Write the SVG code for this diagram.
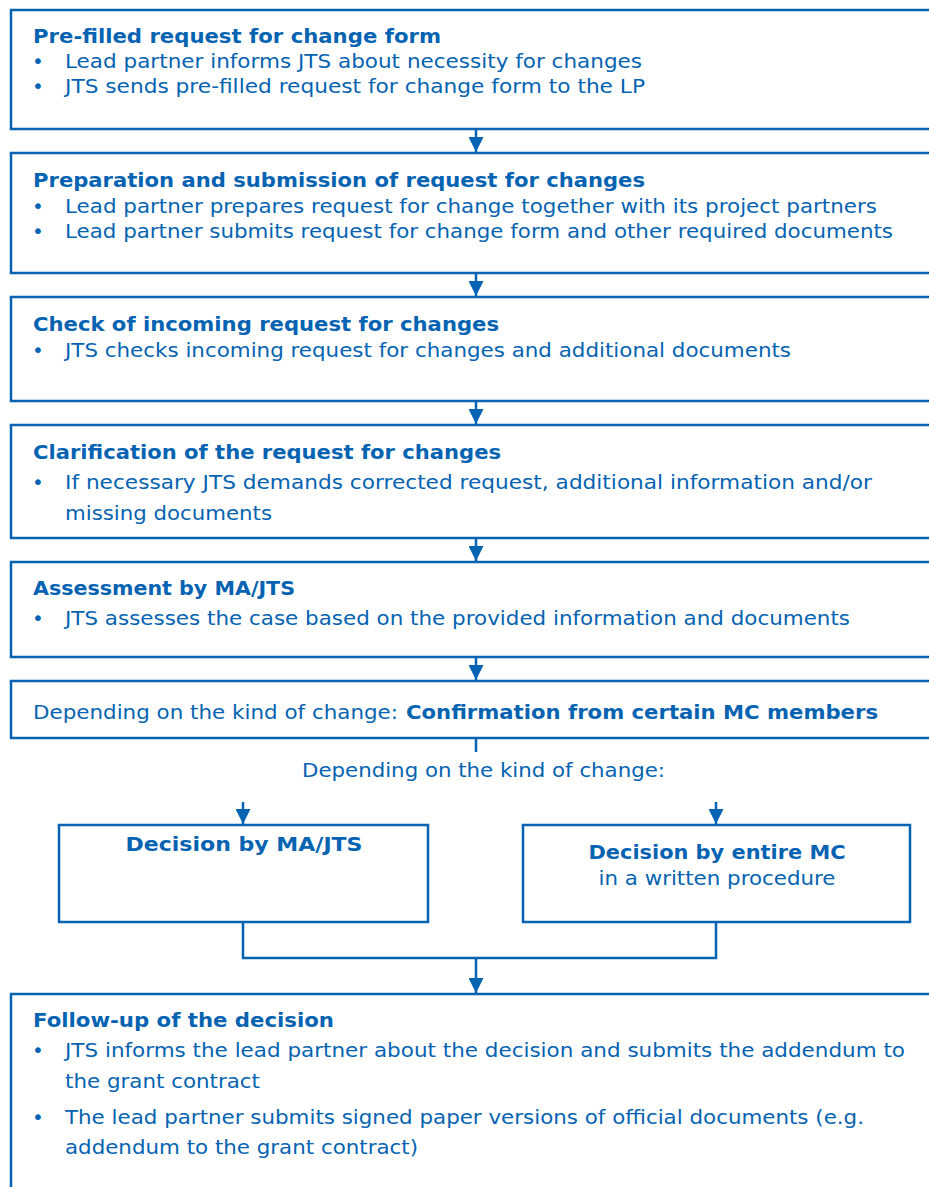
<svg xmlns="http://www.w3.org/2000/svg" width="929" height="1187" viewBox="0 0 929 1187">
<style>
.box{fill:#fff;stroke:#0563b1;stroke-width:2.5}
.ln{fill:none;stroke:#0563b1;stroke-width:2.5}
text{font-family:"DejaVu Sans","Liberation Sans",sans-serif;font-size:20px;fill:#0563b1}
.b{font-weight:bold}
.c{text-anchor:middle}
</style>
<defs>
<marker id="ah" viewBox="0 0 10 10" refX="10" refY="5" markerWidth="6" markerHeight="6" markerUnits="strokeWidth" orient="auto"><path d="M0,0 L10,5 L0,10 z" fill="#0563b1"/></marker>
</defs>
<rect width="929" height="1187" fill="#fff"/>
<g id="connectors">
<line class="ln" x1="476" y1="129" x2="476" y2="152" marker-end="url(#ah)"/>
<line class="ln" x1="476" y1="273" x2="476" y2="296" marker-end="url(#ah)"/>
<line class="ln" x1="476" y1="401" x2="476" y2="424" marker-end="url(#ah)"/>
<line class="ln" x1="476" y1="538" x2="476" y2="561" marker-end="url(#ah)"/>
<line class="ln" x1="476" y1="657" x2="476" y2="680" marker-end="url(#ah)"/>
<line class="ln" x1="476" y1="738" x2="476" y2="752"/>
<line class="ln" x1="243" y1="802" x2="243" y2="824" marker-end="url(#ah)"/>
<line class="ln" x1="716" y1="802" x2="716" y2="824" marker-end="url(#ah)"/>
<polyline class="ln" points="243,922 243,958 716,958 716,922"/>
<line class="ln" x1="476" y1="958" x2="476" y2="993" marker-end="url(#ah)"/>
</g>
<g id="n1">
<rect class="box" x="11" y="10" width="930" height="119"/>
<text class="b" x="33" y="43" textLength="408" lengthAdjust="spacingAndGlyphs">Pre-filled request for change form</text>
<text x="32" y="68">•</text><text x="65" y="68" textLength="577" lengthAdjust="spacingAndGlyphs">Lead partner informs JTS about necessity for changes</text>
<text x="32" y="93">•</text><text x="65" y="93" textLength="580" lengthAdjust="spacingAndGlyphs">JTS sends pre-filled request for change form to the LP</text>
</g>
<g id="n2">
<rect class="box" x="11" y="153" width="930" height="120"/>
<text class="b" x="33" y="187" textLength="612" lengthAdjust="spacingAndGlyphs">Preparation and submission of request for changes</text>
<text x="32" y="213">•</text><text x="65" y="213" textLength="812" lengthAdjust="spacingAndGlyphs">Lead partner prepares request for change together with its project partners</text>
<text x="32" y="238">•</text><text x="65" y="238" textLength="828" lengthAdjust="spacingAndGlyphs">Lead partner submits request for change form and other required documents</text>
</g>
<g id="n3">
<rect class="box" x="11" y="297" width="930" height="104"/>
<text class="b" x="33" y="331" textLength="466" lengthAdjust="spacingAndGlyphs">Check of incoming request for changes</text>
<text x="32" y="357">•</text><text x="65" y="357" textLength="726" lengthAdjust="spacingAndGlyphs">JTS checks incoming request for changes and additional documents</text>
</g>
<g id="n4">
<rect class="box" x="11" y="425" width="930" height="113"/>
<text class="b" x="33" y="459" textLength="468" lengthAdjust="spacingAndGlyphs">Clarification of the request for changes</text>
<text x="32" y="489">•</text><text x="65" y="489" textLength="807" lengthAdjust="spacingAndGlyphs">If necessary JTS demands corrected request, additional information and/or</text>
<text x="65" y="520" textLength="207" lengthAdjust="spacingAndGlyphs">missing documents</text>
</g>
<g id="n5">
<rect class="box" x="11" y="562" width="930" height="95"/>
<text class="b" x="33" y="595" textLength="262" lengthAdjust="spacingAndGlyphs">Assessment by MA/JTS</text>
<text x="32" y="625">•</text><text x="65" y="625" textLength="785" lengthAdjust="spacingAndGlyphs">JTS assesses the case based on the provided information and documents</text>
</g>
<g id="n6">
<rect class="box" x="11" y="681" width="930" height="57"/>
<text x="33" y="719" textLength="365" lengthAdjust="spacingAndGlyphs">Depending on the kind of change:</text>
<text class="b" x="406" y="719" textLength="472" lengthAdjust="spacingAndGlyphs">Confirmation from certain MC members</text>
</g>
<g id="label">
<text x="302" y="777" textLength="363" lengthAdjust="spacingAndGlyphs">Depending on the kind of change:</text>
</g>
<g id="n7">
<rect class="box" x="59" y="825" width="369" height="97"/>
<text class="b c" x="244" y="851" textLength="237" lengthAdjust="spacingAndGlyphs">Decision by MA/JTS</text>
</g>
<g id="n8">
<rect class="box" x="523" y="825" width="387" height="97"/>
<text class="b c" x="717" y="859" textLength="257" lengthAdjust="spacingAndGlyphs">Decision by entire MC</text>
<text class="c" x="717" y="885" textLength="237" lengthAdjust="spacingAndGlyphs">in a written procedure</text>
</g>
<g id="n9">
<rect class="box" x="11" y="994" width="930" height="220"/>
<text class="b" x="33" y="1027" textLength="301" lengthAdjust="spacingAndGlyphs">Follow-up of the decision</text>
<text x="32" y="1057">•</text><text x="65" y="1057" textLength="840" lengthAdjust="spacingAndGlyphs">JTS informs the lead partner about the decision and submits the addendum to</text>
<text x="65" y="1088" textLength="195" lengthAdjust="spacingAndGlyphs">the grant contract</text>
<text x="32" y="1124">•</text><text x="65" y="1124" textLength="799" lengthAdjust="spacingAndGlyphs">The lead partner submits signed paper versions of official documents (e.g.</text>
<text x="65" y="1154" textLength="353" lengthAdjust="spacingAndGlyphs">addendum to the grant contract)</text>
</g>
</svg>
